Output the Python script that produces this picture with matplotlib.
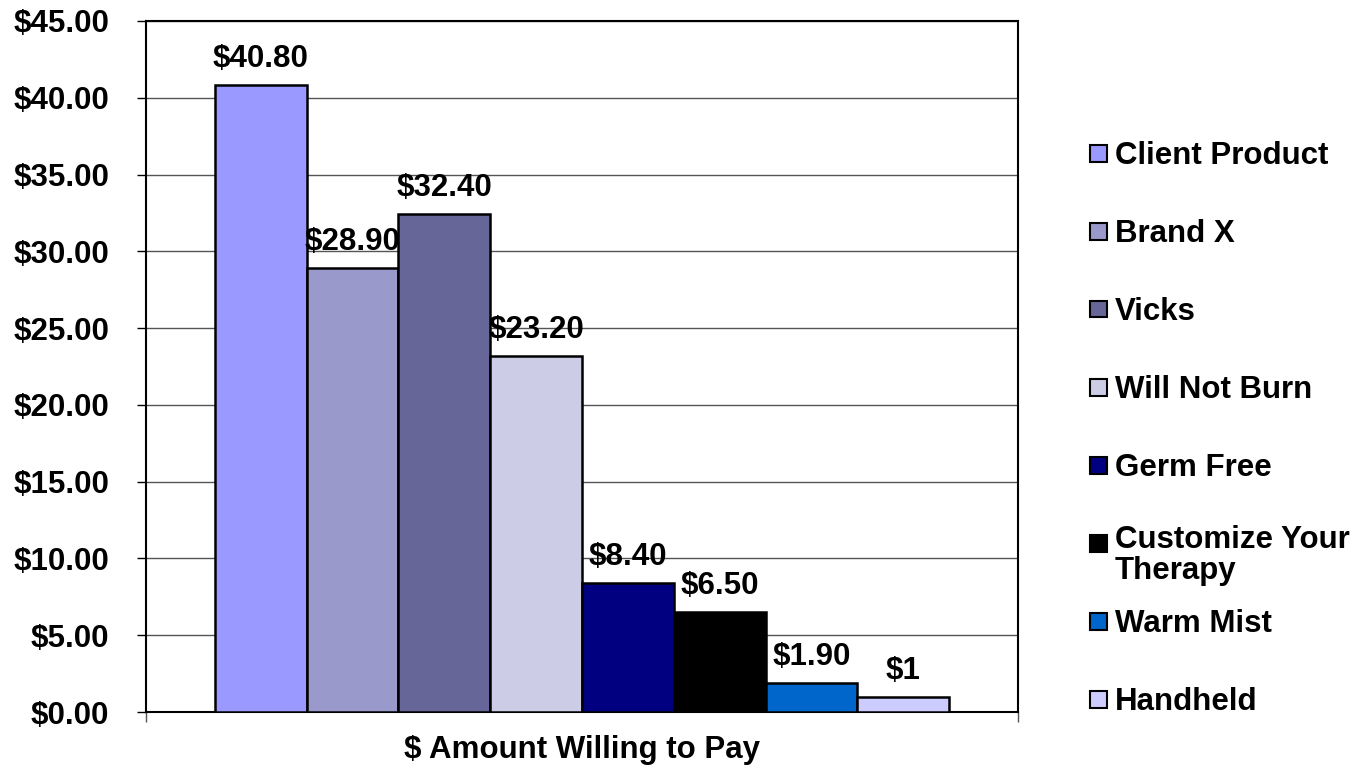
import matplotlib
matplotlib.use('Agg')
import matplotlib.pyplot as plt
from matplotlib.patches import Rectangle

# data
products = ["Client Product", "Brand X", "Vicks", "Will Not Burn", "Germ Free",
            "Customize Your\nTherapy", "Warm Mist", "Handheld"]
prices = [40.80, 28.90, 32.40, 23.20, 8.40, 6.50, 1.90, 1.00]
price_labels = ["$40.80", "$28.90", "$32.40", "$23.20", "$8.40", "$6.50", "$1.90", "$1"]
colors = ["#9999FF", "#9999CC", "#666699", "#CCCCE6", "#000080", "#000000", "#0066CC", "#CCCCFF"]
y_ticks = [0, 5, 10, 15, 20, 25, 30, 35, 40, 45]

plt.rcParams['font.family'] = ['Liberation Sans', 'DejaVu Sans']
plt.rcParams['font.weight'] = 'bold'
FS = 22.5

fig = plt.figure(figsize=(13.61, 7.68), dpi=100)
ax = fig.add_axes([0.1073, 0.0729, 0.6407, 0.8998])

# bars span a single category, edges at 0.079 .. 0.921 of the axis
start = 0.079
width = (0.921 - 0.079) / len(prices)
for i, (v, lab, c) in enumerate(zip(prices, price_labels, colors)):
    x = start + width * (i + 0.5)
    ax.bar(x, v, width=width, color=c, edgecolor='black', linewidth=1.8, zorder=3)
    ax.annotate(lab, (x, v), xytext=(0, 13), textcoords='offset points',
                ha='center', va='baseline', fontsize=FS, fontweight='bold', zorder=4)

ax.set_xlim(0, 1)
ax.set_ylim(0, 45)
ax.set_yticks(y_ticks)
ax.set_yticklabels(["${:.2f}".format(t) for t in y_ticks], fontsize=FS, fontweight='bold')
ax.set_xticks([0, 1])
ax.set_xticklabels([])
ax.tick_params(axis='y', direction='out', length=6.5, width=1, pad=20)
ax.tick_params(axis='x', direction='out', length=7, width=1, color='#555555')
ax.grid(axis='y', color='#555555', linewidth=1, zorder=0)
for s in ax.spines.values():
    s.set_color('black')
    s.set_linewidth(1.5)
ax.set_xlabel("$ Amount Willing to Pay", fontsize=FS, fontweight='bold', labelpad=6)

# legend, laid out by hand like the original
W, H = 1361, 768
for i, (name, c) in enumerate(zip(products, colors)):
    yc = 153 + 78 * i
    fig.patches.append(Rectangle((1090 / W, 1 - (yc + 8.5) / H), 17 / W, 17 / H,
                                 transform=fig.transFigure, facecolor=c,
                                 edgecolor='black', linewidth=1.5))
    if '\n' in name:
        fig.text(1115 / W, 1 - (yc - 18) / H, name, fontsize=FS, fontweight='bold',
                 ha='left', va='top', linespacing=1.05)
    else:
        fig.text(1115 / W, 1 - yc / H, name, fontsize=FS, fontweight='bold',
                 ha='left', va='center_baseline')

fig.savefig('out.png', dpi=100)
